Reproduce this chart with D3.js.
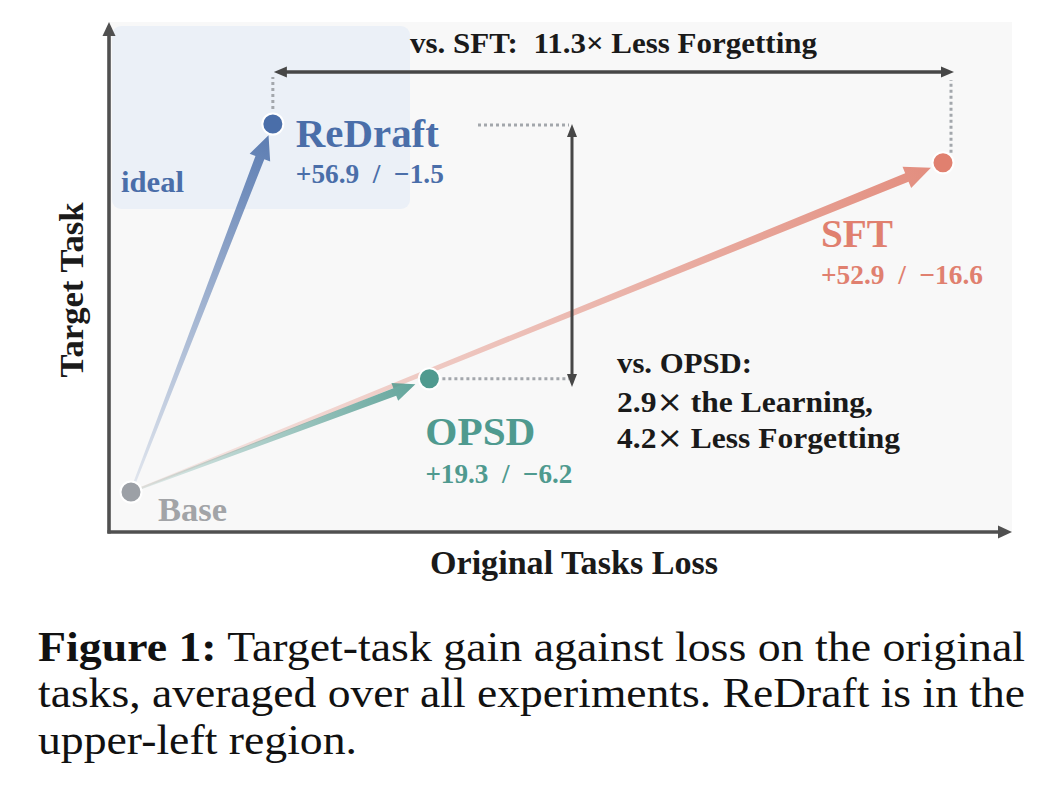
<!DOCTYPE html>
<html><head><meta charset="utf-8">
<script src="https://cdn.jsdelivr.net/npm/d3@7"></script>
<style>
body{margin:0;background:#fff}
svg{display:block}
text{font-family:"Liberation Serif","Times New Roman",serif;white-space:pre}
</style>
</head><body><svg id="c" width="1058" height="794"></svg>
<script>
// ---- data ----
const methods = ["Base", "ReDraft", "OPSD", "SFT"];
const targetGain = [0, 56.9, 19.3, 52.9];      // target-task gain
const originalLoss = [0, 1.5, 6.2, 16.6];      // forgetting on original tasks
// schematic placement (not drawn strictly to scale)
const placeLoss = [0, 2.9, 6.1, 16.6];
const placeGain = [0, 56.9, 17.5, 50.9];
const xTitle = "Original Tasks Loss";
const yTitle = "Target Task";
const sftComparison = "vs. SFT:  11.3× Less Forgetting";
const opsdComparison = ["vs. OPSD:", "2.9", "the Learning,", "4.2", "Less Forgetting"];
const captionLines = [
  ["Figure 1:", " Target-task gain against loss on the original"],
  ["", "tasks, averaged over all experiments. ReDraft is in the"],
  ["", "upper-left region."]
];

// ---- styles ----
const colors = {Base: "#9ca0a6", ReDraft: "#4a6ea9", OPSD: "#4f9a8f", SFT: "#e0806f"};
const svg = d3.select("#c");
const x = d3.scaleLinear().domain([0, 16.6]).range([131, 943]);
const y = d3.scaleLinear().domain([0, 56.9]).range([492, 124]);
const frame = {left: 109, right: 1012, top: 22, bottom: 532};

const pts = methods.map((m, i) => ({m, gain: targetGain[i], loss: originalLoss[i], px: x(placeLoss[i]), py: y(placeGain[i])}));
const P = Object.fromEntries(pts.map(d => [d.m, d]));

// background
svg.append("rect").attr("x", frame.left).attr("y", frame.top)
  .attr("width", frame.right - frame.left).attr("height", frame.bottom - frame.top).attr("fill", "#f8f8f8");
// ideal region
svg.append("rect").attr("x", 112).attr("y", 26).attr("width", 298).attr("height", 183)
  .attr("rx", 9).attr("fill", "#ebf0f7");
svg.append("text").attr("x", 121).attr("y", 192).attr("font-size", 30).attr("font-weight", "bold")
  .attr("fill", colors.ReDraft).attr("textLength", 63).attr("lengthAdjust", "spacingAndGlyphs").text("ideal");

function headPath(tx, ty, ux, uy, L, W) {
  const nx = -uy, ny = ux;
  const bx = tx - ux * L, by = ty - uy * L;
  return `M${tx},${ty}L${bx + nx * W / 2},${by + ny * W / 2}L${bx - nx * W / 2},${by - ny * W / 2}Z`;
}
function lineArrow(x0, y0, x1, y1, opts) {
  const g = svg.append("g");
  const dx = x1 - x0, dy = y1 - y0, len = Math.hypot(dx, dy), ux = dx / len, uy = dy / len;
  const L = opts.L, W = opts.W;
  const sx0 = opts.start ? x0 + ux * L * 0.8 : x0, sy0 = opts.start ? y0 + uy * L * 0.8 : y0;
  const sx1 = opts.end ? x1 - ux * L * 0.8 : x1, sy1 = opts.end ? y1 - uy * L * 0.8 : y1;
  g.append("line").attr("x1", sx0).attr("y1", sy0).attr("x2", sx1).attr("y2", sy1)
    .attr("stroke", opts.color).attr("stroke-width", opts.sw);
  if (opts.end) g.append("path").attr("d", headPath(x1, y1, ux, uy, L, W)).attr("fill", opts.color);
  if (opts.start) g.append("path").attr("d", headPath(x0, y0, -ux, -uy, L, W)).attr("fill", opts.color);
}

// axes
lineArrow(frame.left, frame.bottom + 1.5, frame.left, frame.top, {color: "#505050", sw: 3.6, L: 14, W: 13, end: true});
lineArrow(frame.left - 1.5, frame.bottom, frame.right, frame.bottom, {color: "#505050", sw: 3.6, L: 14, W: 13, end: true});

// axis titles
svg.append("text").attr("x", 574).attr("y", 574).attr("text-anchor", "middle").attr("font-size", 33)
  .attr("font-weight", "bold").attr("fill", "#1a1a1a").attr("textLength", 288).attr("lengthAdjust", "spacingAndGlyphs").text(xTitle);
svg.append("text").attr("transform", "translate(83,290) rotate(-90)").attr("text-anchor", "middle").attr("font-size", 33)
  .attr("font-weight", "bold").attr("fill", "#1a1a1a").attr("textLength", 175).attr("lengthAdjust", "spacingAndGlyphs").text(yTitle);

// tapered gradient arrows
const defs = svg.append("defs");
const arrowSpec = {
  SFT: {w1: 9, hw: 23, hl: 26, gap: 13},
  OPSD: {w1: 8, hw: 19, hl: 22, gap: 15},
  ReDraft: {w1: 9.5, hw: 22, hl: 24, gap: 12}
};
["SFT", "OPSD", "ReDraft"].forEach(m => {
  const b = P.Base, t = P[m], s = arrowSpec[m];
  const dx = t.px - b.px, dy = t.py - b.py, len = Math.hypot(dx, dy), ux = dx / len, uy = dy / len;
  const nx = -uy, ny = ux;
  const tx = t.px - ux * s.gap, ty = t.py - uy * s.gap;
  const bx = tx - ux * s.hl, by = ty - uy * s.hl;
  const w0 = 2.2;
  const gid = "grad" + m;
  const gr = defs.append("linearGradient").attr("id", gid).attr("gradientUnits", "userSpaceOnUse")
    .attr("x1", b.px).attr("y1", b.py).attr("x2", tx).attr("y2", ty);
  gr.append("stop").attr("offset", 0).attr("stop-color", colors[m]).attr("stop-opacity", 0.12);
  gr.append("stop").attr("offset", 0.55).attr("stop-color", colors[m]).attr("stop-opacity", 0.52);
  gr.append("stop").attr("offset", 1).attr("stop-color", colors[m]).attr("stop-opacity", 0.88);
  const poly = [
    [b.px + nx * w0 / 2, b.py + ny * w0 / 2],
    [bx + nx * s.w1 / 2, by + ny * s.w1 / 2],
    [bx + nx * s.hw / 2, by + ny * s.hw / 2],
    [tx, ty],
    [bx - nx * s.hw / 2, by - ny * s.hw / 2],
    [bx - nx * s.w1 / 2, by - ny * s.w1 / 2],
    [b.px - nx * w0 / 2, b.py - ny * w0 / 2]
  ];
  svg.append("path").attr("d", "M" + poly.map(p => p.join(",")).join("L") + "Z").attr("fill", `url(#${gid})`);
});

// dotted guides
const dotted = (x1, y1, x2, y2) => svg.append("line").attr("x1", x1).attr("y1", y1).attr("x2", x2).attr("y2", y2)
  .attr("stroke", "#a3a7ac").attr("stroke-width", 3).attr("stroke-dasharray", "3,3");
dotted(P.ReDraft.px, P.ReDraft.py - 15, P.ReDraft.px, 77);
dotted(P.SFT.px + 8, P.SFT.py - 10, P.SFT.px + 8, 80);
dotted(478, P.ReDraft.py + 1, 569, P.ReDraft.py + 1);
dotted(P.OPSD.px + 13, P.OPSD.py, 569, P.OPSD.py);

// comparison arrows
lineArrow(P.ReDraft.px + 1, 72, P.SFT.px + 11, 72, {color: "#474747", sw: 3.5, L: 13, W: 11, start: true, end: true});
lineArrow(572, P.ReDraft.py, 572, 387, {color: "#474747", sw: 3, L: 13, W: 10, start: true, end: true});

// dots
svg.selectAll("circle.pt").data(pts).join("circle").attr("class", "pt")
  .attr("cx", d => d.px).attr("cy", d => d.py).attr("r", 10.5)
  .attr("fill", d => colors[d.m]).attr("stroke", "#fff").attr("stroke-width", 2);

// labels
const nameSpec = {
  Base: {dx: 27, dy: 29, size: 33, w: 69, fill: "#a2a4a7"},
  ReDraft: {dx: 23, dy: 23, size: 41, w: 143},
  OPSD: {dx: -4, dy: 66, size: 41, w: 110},
  SFT: {dx: -122, dy: 84, size: 41, w: 72}
};
const valSpec = {ReDraft: {dy: 59, w: 148}, OPSD: {dy: 104, w: 147}, SFT: {dy: 121, w: 162}};
pts.forEach(d => {
  const s = nameSpec[d.m];
  svg.append("text").attr("x", d.px + s.dx).attr("y", d.py + s.dy).attr("font-size", s.size).attr("font-weight", "bold")
    .attr("fill", s.fill || colors[d.m]).attr("textLength", s.w).attr("lengthAdjust", "spacingAndGlyphs").text(d.m);
  if (valSpec[d.m]) {
    const v = valSpec[d.m];
    svg.append("text").attr("x", d.px + s.dx).attr("y", d.py + v.dy).attr("font-size", 28).attr("font-weight", "bold")
      .attr("fill", colors[d.m]).attr("textLength", v.w).attr("lengthAdjust", "spacingAndGlyphs")
      .text(`+${d.gain.toFixed(1)}  /  \u2212${d.loss.toFixed(1)}`);
  }
});

// comparison texts
svg.append("text").attr("x", 410).attr("y", 53).attr("font-size", 30).attr("font-weight", "bold").attr("fill", "#1a1a1a")
  .attr("textLength", 407).attr("lengthAdjust", "spacingAndGlyphs").text(sftComparison);
svg.append("text").attr("x", 617).attr("y", 373).attr("font-size", 30).attr("font-weight", "bold").attr("fill", "#1a1a1a")
  .attr("textLength", 135).attr("lengthAdjust", "spacingAndGlyphs").text(opsdComparison[0]);
[[412, 256, opsdComparison[1], opsdComparison[2]], [448, 283, opsdComparison[3], opsdComparison[4]]].forEach(([yy, w, a, b]) => {
  const t = svg.append("text").attr("x", 617).attr("y", yy).attr("font-size", 30).attr("font-weight", "bold").attr("fill", "#1a1a1a")
    .attr("textLength", w).attr("lengthAdjust", "spacingAndGlyphs");
  t.append("tspan").text(a);
  t.append("tspan").attr("font-family", "DejaVu Sans").attr("font-weight", "normal").attr("font-size", 30).text("\u00D7");
  t.append("tspan").text(" " + b);
});

// caption
const capY = [661, 707, 754];
const capW = [987, 987, 319];
captionLines.forEach((ln, i) => {
  const t = svg.append("text").attr("x", 38).attr("y", capY[i]).attr("font-size", 43).attr("fill", "#111")
    .attr("textLength", capW[i]).attr("lengthAdjust", "spacingAndGlyphs");
  if (ln[0]) t.append("tspan").attr("font-weight", "bold").text(ln[0]);
  t.append("tspan").text(ln[1]);
});
</script>
</body></html>
